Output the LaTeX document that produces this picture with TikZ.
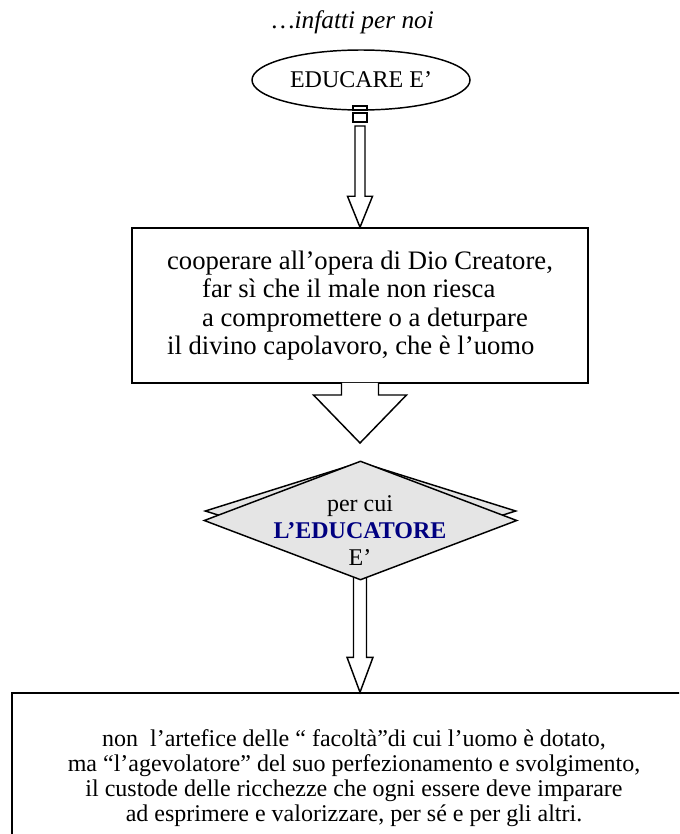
\documentclass[tikz,border=0pt]{standalone}
\usepackage{fontspec}
\setmainfont{Liberation Serif}
\usepackage{tikz}
\usetikzlibrary{shapes.geometric}
\usetikzlibrary{calc}
\definecolor{blu}{RGB}{0,0,128}
\tikzset{box label/.style={draw,rectangle,line width=1.1pt,inner sep=0,fill=white}}
\tikzset{arrow shape/.style={draw,fill=white,line width=1.1pt,line join=miter}}
\tikzset{rombo/.style={draw,diamond,fill=black!10,line width=1.1pt,inner sep=0}}
\def\fs{\fontsize{18}{20.25}\selectfont}
\def\blockarrow#1#2#3#4#5{%
  \draw[arrow shape] ($(#1)+(-#3,0)$) -- ($(#2)+(-#3,-#5)$) -- ($(#2)+(-#4,-#5)$) -- (#2)
    -- ($(#2)+(#4,-#5)$) -- ($(#2)+(#3,-#5)$) -- ($(#1)+(#3,0)$) -- cycle;}

\begin{document}
\begin{tikzpicture}[x=0.75pt,y=-0.75pt]
  \useasboundingbox (0,0) rectangle (679,834);
  \clip (0,0) rectangle (679,834);

  %タイトル
  \node[font=\fontsize{19}{22}\selectfont\itshape] (titolo) at (353,22) {…infatti per noi};

  %楕円
  \node[draw,ellipse,line width=1.1pt,minimum width=163.5pt,minimum height=45pt,inner sep=0,font=\fs] (educare) at (361,80) {EDUCARE E’};

  %四角形
  \node[box label,minimum width=342pt,minimum height=116.25pt,align=left,font=\fontsize{20}{21.4}\selectfont] (opera) at (360,305.5) {cooperare all’opera di Dio Creatore,\\ \hspace*{26.25pt}far sì che il male non riesca\\ \hspace*{26.25pt}a compromettere o a deturpare\\ il divino capolavoro, che è l’uomo};
  \node[box label,minimum width=513pt,minimum height=127.5pt,align=center,font=\fontsize{18}{18.75}\selectfont] (fondo) at (354,778) {non\ \ l’artefice delle “ facoltà”di cui l’uomo è dotato,\\ ma “l’agevolatore” del suo perfezionamento e svolgimento,\\ il custode delle ricchezze che ogni essere deve imparare\\ ad esprimere e valorizzare, per sé e per gli altri.};

  %矢印
  \coordinate (a1) at (360,126);
  \draw[arrow shape] ($(a1)+(-7,-20)$) rectangle ($(a1)+(7,-16)$);
  \draw[arrow shape] ($(a1)+(-7,-13)$) rectangle ($(a1)+(7,-4)$);
  \blockarrow{a1}{opera.north}{5}{12.5}{31}

  \coordinate (b2) at (360,443);
  \draw[arrow shape] ($(opera.south)+(-18.5,-0.8)$) -- ($(b2)+(-18.5,-48)$) -- ($(b2)+(-46.5,-48)$) -- (b2)
    -- ($(b2)+(46.5,-48)$) -- ($(b2)+(18.5,-48)$) -- ($(opera.south)+(18.5,-0.8)$);

  \coordinate (c1) at (360,570);
  \coordinate (c2) at (fondo.north -| c1);
  \blockarrow{c1}{c2}{6.5}{13}{35}

  %ひし形
  \node[rombo,minimum width=233.25pt,minimum height=73.5pt] (dietro) at (360.5,511) {};
  \node[rombo,minimum width=234.75pt,minimum height=89.25pt] (scelta) at (360.5,520.5) {};
  \node[font=\fs,align=center] (educatore) at (360,531) {per cui\\{\bfseries\color{blu}L’EDUCATORE}\\E’};

\end{tikzpicture}
\end{document}
